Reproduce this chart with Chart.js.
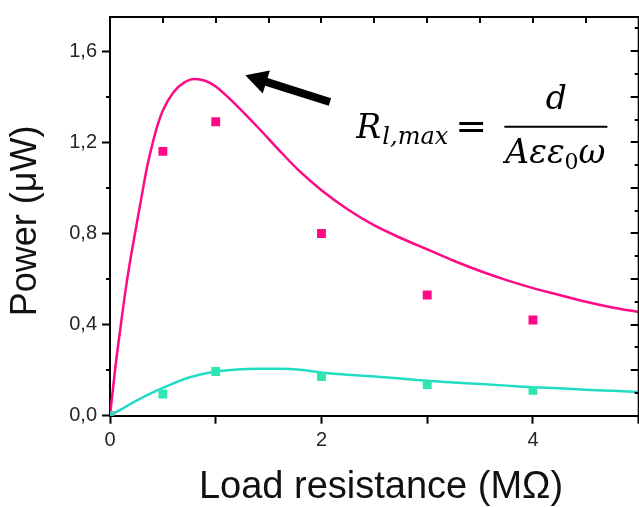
<!DOCTYPE html>
<html>
<head>
<meta charset="utf-8">
<script src="https://cdn.jsdelivr.net/npm/chart.js@4.4.1/dist/chart.umd.min.js"></script>
<style>
  html, body { margin: 0; padding: 0; background: #fff; overflow: hidden; }
  #wrap { width: 639px; height: 507px; overflow: hidden; position: relative; }
  #c { position: absolute; left: 0; top: 0; }
</style>
</head>
<body>
<div id="wrap"><canvas id="c" width="645" height="507"></canvas></div>
<script>
// Measured output power versus load resistance (MΩ → µW)
const loadPoints = [0, 0.5, 1, 2, 3, 4];
const powerHigh = [0, 1.16, 1.29, 0.80, 0.53, 0.42];
const powerLow = [0, 0.095, 0.194, 0.172, 0.137, 0.111];

// Fitted model curves, sampled along the load axis
const fitLoad = [0, 0.05, 0.1, 0.15, 0.2, 0.25, 0.3, 0.35, 0.4, 0.45, 0.5, 0.6, 0.7, 0.8, 0.9, 1.0,
                 1.2, 1.4, 1.6, 1.8, 2.0, 2.25, 2.5, 2.75, 3.0, 3.25, 3.5, 3.75, 4.0, 4.25, 4.5, 4.75, 5.0];
const fitHigh = [0, 0.21, 0.39, 0.56, 0.705, 0.835, 0.965, 1.09, 1.19, 1.275, 1.34, 1.42, 1.462, 1.478, 1.47, 1.445,
                 1.36, 1.265, 1.165, 1.07, 0.99, 0.905, 0.835, 0.78, 0.73, 0.68, 0.635, 0.595, 0.56, 0.53, 0.50, 0.475, 0.455];
const fitLow = [0, 0.013, 0.027, 0.04, 0.053, 0.066, 0.078, 0.09, 0.101, 0.112, 0.122, 0.142, 0.16, 0.174, 0.185, 0.194,
                0.203, 0.206, 0.206, 0.202, 0.19, 0.18, 0.172, 0.163, 0.153, 0.146, 0.139, 0.132, 0.125, 0.12, 0.114, 0.109, 0.104];

// Axis ticks
const xTickValues = [0, 1, 2, 3, 4, 5];
const xTickLabels = ['0', '', '2', '', '4', ''];
const xTopTicks = [0.5, 1, 1.5, 2, 2.5, 3, 3.5, 4, 4.5];
const yTickValues = [0, 0.4, 0.8, 1.2, 1.6];
const yTickLabels = ['0,0', '0,4', '0,8', '1,2', '1,6'];
const yMinorTicks = [0.2, 0.6, 1.0, 1.4];
const yRightTicks = [0.1, 0.2, 0.3, 0.4, 0.5, 0.6, 0.7, 0.8, 0.9, 1.0, 1.1, 1.2, 1.3, 1.4, 1.5, 1.6, 1.7];

const xTitle = 'Load resistance (MΩ)';
const yTitle = 'Power (μW)';

const PINK = '#ff0a86';
const TEAL_LINE = '#22dcc4';
const TEAL_PT = '#30e6b0';

const toXY = (xs, ys) => xs.map((x, i) => ({ x, y: ys[i] }));

const framePlugin = {
  id: 'frame',
  afterDraw(chart) {
    const { ctx, chartArea: a, scales: { x, y } } = chart;
    ctx.save();
    ctx.strokeStyle = '#000';
    ctx.fillStyle = '#000';
    ctx.lineWidth = 2;

    // top and right frame lines
    ctx.beginPath();
    ctx.moveTo(a.left - 1, a.top);
    ctx.lineTo(a.right + 1, a.top);
    ctx.moveTo(a.right, a.top);
    ctx.lineTo(a.right, a.bottom);
    ctx.stroke();

    // inward ticks on the top edge
    ctx.beginPath();
    xTopTicks.forEach(v => {
      const px = Math.round(x.getPixelForValue(v));
      ctx.moveTo(px, a.top);
      ctx.lineTo(px, a.top + 6);
    });
    // inward ticks on the right edge
    yRightTicks.forEach((v, i) => {
      const py = Math.round(y.getPixelForValue(v));
      const len = (i % 2 === 1) ? 8 : 4;
      ctx.moveTo(a.right, py);
      ctx.lineTo(a.right - len, py);
    });
    // minor ticks on the left axis
    yMinorTicks.forEach(v => {
      const py = Math.round(y.getPixelForValue(v));
      ctx.moveTo(a.left, py);
      ctx.lineTo(a.left - 4, py);
    });
    ctx.stroke();

    // arrow pointing at the power maximum
    const tip = { x: x.getPixelForValue(1.28), y: y.getPixelForValue(1.494) };
    const tail = { x: x.getPixelForValue(2.08), y: y.getPixelForValue(1.377) };
    const dx = tail.x - tip.x, dy = tail.y - tip.y;
    const L = Math.hypot(dx, dy);
    const ux = dx / L, uy = dy / L, nx = -uy, ny = ux;
    const headLen = 22, headHalf = 12, shaftHalf = 4;
    const bx = tip.x + ux * headLen, by = tip.y + uy * headLen;
    ctx.beginPath();
    ctx.moveTo(tip.x, tip.y);
    ctx.lineTo(bx + nx * headHalf, by + ny * headHalf);
    ctx.lineTo(bx + nx * shaftHalf, by + ny * shaftHalf);
    ctx.lineTo(tail.x + nx * shaftHalf, tail.y + ny * shaftHalf);
    ctx.lineTo(tail.x - nx * shaftHalf, tail.y - ny * shaftHalf);
    ctx.lineTo(bx - nx * shaftHalf, by - ny * shaftHalf);
    ctx.lineTo(bx - nx * headHalf, by - ny * headHalf);
    ctx.closePath();
    ctx.fill();

    // optimal load formula
    const ox = x.getPixelForValue(2.33), oy = y.getPixelForValue(1.22);
    const serif = '"DejaVu Serif", "Liberation Serif", serif';
    ctx.textBaseline = 'alphabetic';
    ctx.textAlign = 'left';
    ctx.font = 'italic 33px ' + serif;
    ctx.fillText('R', ox, oy);
    ctx.font = 'italic 24px ' + serif;
    ctx.fillText('l,max', ox + 26, oy + 6);
    ctx.font = '38px ' + serif;
    ctx.fillText('=', ox + 99, oy + 1);
    ctx.fillRect(ox + 148, oy - 12, 103, 2);
    ctx.font = 'italic 33px ' + serif;
    ctx.textAlign = 'center';
    ctx.fillText('d', ox + 200, oy - 29);
    ctx.textAlign = 'left';
    ctx.fillText('Aεε', ox + 149, oy + 25);
    const w1 = ctx.measureText('Aεε').width;
    ctx.font = '22px ' + serif;
    ctx.fillText('0', ox + 149 + w1, oy + 31);
    const w2 = ctx.measureText('0').width;
    ctx.font = 'italic 33px ' + serif;
    ctx.fillText('ω', ox + 149 + w1 + w2, oy + 25);

    // axis titles
    ctx.fillStyle = '#111';
    ctx.textAlign = 'center';
    ctx.textBaseline = 'middle';
    ctx.font = '38px "Liberation Sans", Arial, sans-serif';
    ctx.fillText(xTitle, a.left + 271, 488);
    ctx.font = '36px "Liberation Sans", Arial, sans-serif';
    ctx.translate(a.left - 84, 221);
    ctx.rotate(-Math.PI / 2);
    ctx.fillText(yTitle, 0, 0);
    ctx.restore();
  }
};

const tickFont = { family: '"Liberation Sans", Arial, sans-serif', size: 20 };

new Chart(document.getElementById('c'), {
  type: 'scatter',
  data: {
    datasets: [
      { type: 'line', data: toXY(fitLoad, fitHigh), borderColor: PINK, borderWidth: 2.5,
        pointRadius: 0, cubicInterpolationMode: 'monotone', fill: false, order: 3 },
      { type: 'line', data: toXY(fitLoad, fitLow), borderColor: TEAL_LINE, borderWidth: 2.5,
        pointRadius: 0, cubicInterpolationMode: 'monotone', fill: false, order: 3 },
      { data: toXY(loadPoints, powerHigh), pointStyle: 'rect', pointRadius: 6.3,
        backgroundColor: PINK, borderColor: PINK, borderWidth: 0, order: 2 },
      { data: toXY(loadPoints, powerLow), pointStyle: 'rect', pointRadius: 6.3,
        backgroundColor: TEAL_PT, borderColor: TEAL_PT, borderWidth: 0, order: 1 }
    ]
  },
  options: {
    responsive: false,
    animation: false,
    devicePixelRatio: 1,
    layout: { padding: { top: 9.5, right: 4, left: 0, bottom: 0 } },
    plugins: { legend: { display: false }, tooltip: { enabled: false } },
    scales: {
      x: {
        type: 'linear', min: 0, max: 5,
        afterBuildTicks: s => { s.ticks = xTickValues.map(v => ({ value: v })); },
        afterFit: s => { s.height = 91.3; },
        ticks: {
          callback: (v, i) => xTickLabels[i],
          font: tickFont, color: '#262626', padding: 5, maxRotation: 0, autoSkip: false
        },
        grid: { display: true, drawOnChartArea: false, drawTicks: true, tickLength: 8, tickWidth: 2, tickColor: '#000' },
        border: { display: true, color: '#000', width: 2 }
      },
      y: {
        type: 'linear', min: 0, max: 1.75,
        afterBuildTicks: s => { s.ticks = yTickValues.map(v => ({ value: v })); },
        afterFit: s => { s.width = 110; },
        ticks: {
          callback: (v, i) => yTickLabels[i],
          font: tickFont, color: '#262626', padding: 5, autoSkip: false
        },
        grid: { display: true, drawOnChartArea: false, drawTicks: true, tickLength: 8, tickWidth: 2, tickColor: '#000' },
        border: { display: true, color: '#000', width: 2 }
      }
    }
  },
  plugins: [framePlugin]
});
</script>
</body>
</html>
